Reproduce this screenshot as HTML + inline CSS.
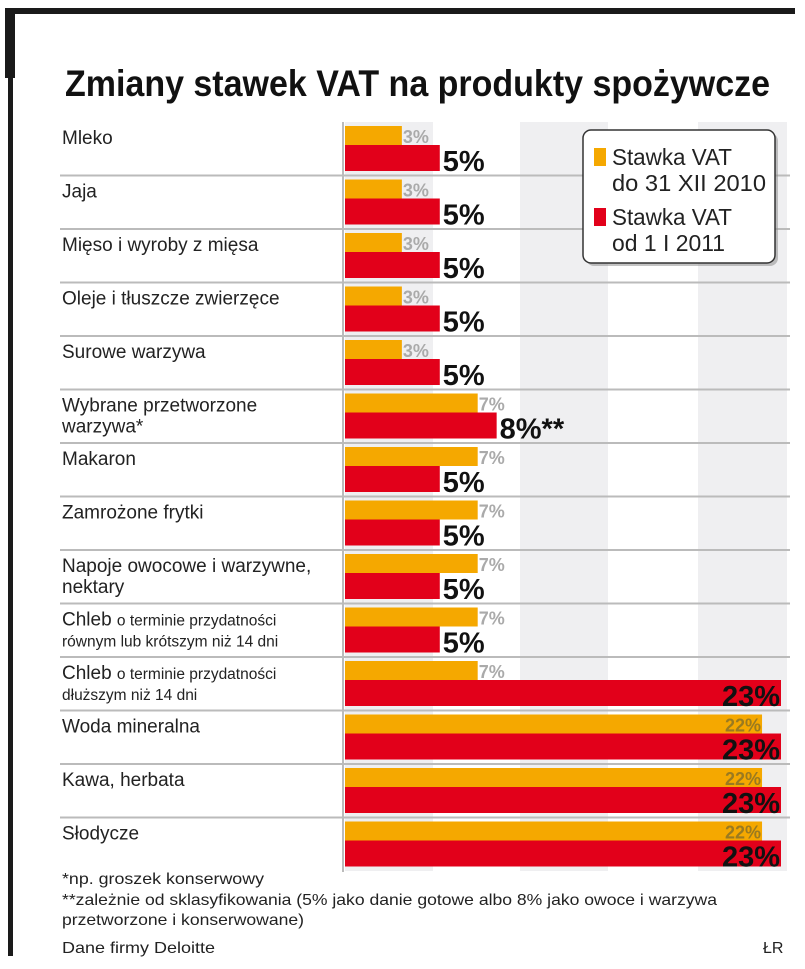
<!DOCTYPE html>
<html><head><meta charset="utf-8"><style>
body{margin:0;background:#fff}
svg{display:block;font-family:"Liberation Sans",sans-serif}
</style></head><body>
<svg id="chart" width="805" height="969" viewBox="0 0 805 969" xmlns="http://www.w3.org/2000/svg">
<rect x="5" y="8" width="790" height="6" fill="#1a1a1a"/>
<rect x="5" y="8" width="10" height="70" fill="#1a1a1a"/>
<rect x="8" y="8" width="5" height="948" fill="#1a1a1a"/>
<text x="65" y="96" font-size="37" font-weight="bold" textLength="705" lengthAdjust="spacingAndGlyphs" fill="#111">Zmiany stawek VAT na produkty spożywcze</text>
<g id="stripes"></g>
<g id="rows"></g>
<g id="bars"></g>
<line x1="343" y1="122" x2="343" y2="872" stroke="#bbb" stroke-width="2"/>
<g>
<rect x="586" y="133" width="192" height="133" rx="8" fill="#888" opacity="0.5"/>
<rect x="583" y="130" width="192" height="133" rx="8" fill="#fff" stroke="#333" stroke-width="1.5"/>
<rect x="594" y="148" width="12" height="18" fill="#f5a800"/>
<text x="612" y="165" font-size="23" textLength="120" lengthAdjust="spacingAndGlyphs" fill="#222">Stawka VAT</text>
<text x="612" y="191" font-size="23" textLength="154" lengthAdjust="spacingAndGlyphs" fill="#222">do 31 XII 2010</text>
<rect x="594" y="208" width="12" height="18" fill="#e2001a"/>
<text x="612" y="225" font-size="23" textLength="120" lengthAdjust="spacingAndGlyphs" fill="#222">Stawka VAT</text>
<text x="612" y="251" font-size="23" textLength="113" lengthAdjust="spacingAndGlyphs" fill="#222">od 1 I 2011</text>
</g>
<g font-size="16" fill="#222">
<text x="62" y="884" textLength="202" lengthAdjust="spacingAndGlyphs">*np. groszek konserwowy</text>
<text x="62" y="905" textLength="655" lengthAdjust="spacingAndGlyphs">**zależnie od sklasyfikowania (5% jako danie gotowe albo 8% jako owoce i warzywa</text>
<text x="62" y="925" textLength="242" lengthAdjust="spacingAndGlyphs">przetworzone i konserwowane)</text>
<text x="62" y="953" textLength="153" lengthAdjust="spacingAndGlyphs">Dane firmy Deloitte</text>
<text x="763" y="953">ŁR</text>
</g>
</svg>
<script>
const categories = ["Mleko","Jaja","Mięso i wyroby z mięsa","Oleje i tłuszcze zwierzęce","Surowe warzywa","Wybrane przetworzone|warzywa*","Makaron","Zamrożone frytki","Napoje owocowe i warzywne,|nektary","CHLEB1","CHLEB2","Woda mineralna","Kawa, herbata","Słodycze"];
const vat2010 = [3,3,3,3,3,7,7,7,7,7,7,22,22,22];
const vat2011 = [5,5,5,5,5,8,5,5,5,5,23,23,23,23];
const labels2011 = ["5%","5%","5%","5%","5%","8%**","5%","5%","5%","5%","23%","23%","23%","23%"];

const NS="http://www.w3.org/2000/svg";
const X0=345, PX=(781-345)/23, TOP=122, RH=53.5;
const xs = v => X0 + v*PX;
const ys = i => TOP + i*RH;
function mk(tag, attrs, parent){const e=document.createElementNS(NS,tag);for(const k in attrs)e.setAttribute(k,attrs[k]);parent.appendChild(e);return e;}
const stripes=document.getElementById('stripes'), rows=document.getElementById('rows'), bars=document.getElementById('bars');
[[345,88],[520,88],[698,89]].forEach(s=>{
  const r=mk('rect',{x:s[0],y:TOP,width:s[1],height:RH*categories.length,fill:'#efeff1'},stripes);
  
  
});
categories.forEach((c,i)=>{
  const y=ys(i);
  if(i>0){const l=mk('line',{x1:60,x2:790,y1:y,y2:y,stroke:'#bbb','stroke-width':2},rows);
    
    }
  const t=mk('text',{x:62,y:y+22,'font-size':19,fill:'#222'},rows);
  
  
  if(c==='CHLEB1'||c==='CHLEB2'){
    const a=mk('tspan',{},t);a.textContent='Chleb ';
    const b=mk('tspan',{'font-size':15.5},t);b.textContent='o terminie przydatności';
    const t2=mk('text',{x:62,y:y+43,'font-size':15.5,fill:'#222'},rows);
    
    
    t2.textContent = c==='CHLEB1' ? 'równym lub krótszym niż 14 dni' : 'dłuższym niż 14 dni';
  } else {
    const p=c.split('|'); t.textContent=p[0];
    if(p[1]){const t2=mk('text',{x:62,y:y+43,'font-size':19,fill:'#222'},rows);
      
      
      t2.textContent=p[1];}
  }
  const ob=mk('rect',{x:X0,y:y+4,width:xs(vat2010[i])-X0,height:19,fill:'#f5a800'},bars);
  
  
  const big=vat2010[i]>=20;
  const ol=mk('text',{x:big?xs(vat2010[i])-1:xs(vat2010[i])+1,y:y+21,'font-size':18,'font-weight':'bold',fill:big?'#9a7a20':'#aaa','text-anchor':big?'end':'start'},bars);
  
  
  ol.textContent=vat2010[i]+'%';
  const rb=mk('rect',{x:X0,y:y+23,width:xs(vat2011[i])-X0,height:26,fill:'#e2001a'},bars);
  
  
  const big2=vat2011[i]>=20;
  const rl=mk('text',{x:big2?xs(vat2011[i])-1:xs(vat2011[i])+3,y:y+49,'font-size':29,'font-weight':'bold',fill:'#111','text-anchor':big2?'end':'start'},bars);
  
  
  rl.textContent=labels2011[i];
});
</script>
</body></html>
